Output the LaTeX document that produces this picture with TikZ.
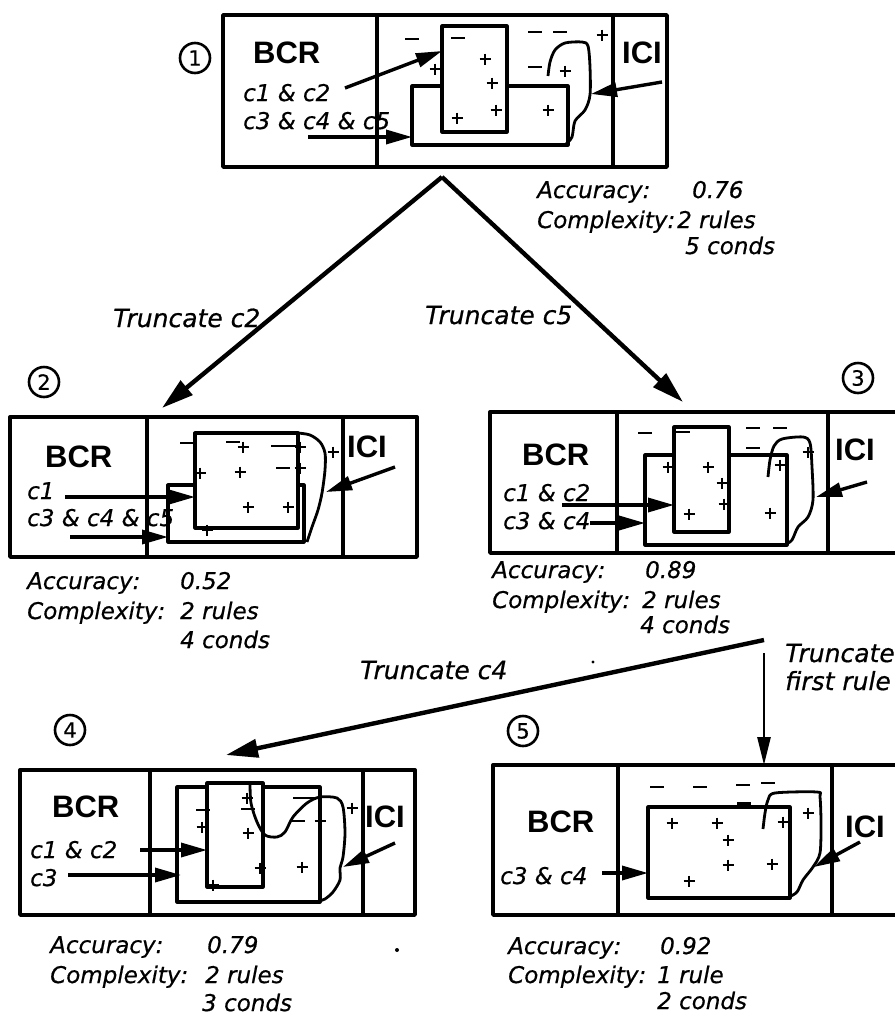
\documentclass[tikz,border=0pt]{standalone}
\usepackage{fontspec}
\usetikzlibrary{arrows.meta}
\newfontfamily\handfont{DejaVu Sans}[FakeBold=0.6]
\newfontfamily\headfont{Liberation Sans}
\newcommand\plusmark[2]{\draw[pm] (#1,#2) +(-5.5,0) -- +(5.5,0) +(0,-5.5) -- +(0,5.5);}
\newcommand\minusmark[2]{\draw[pm] (#1,#2) +(-7,0) -- +(7,0);}
\newcommand\boxnode[6]{\node[#6, minimum width={#4pt-#2pt}, minimum height={#5pt-#3pt}, anchor=north west] (#1) at (#2,#3) {};}
\begin{document}
\begin{tikzpicture}[x=1pt,y=-1pt,line join=round,
  frame/.style={draw, rectangle, line width=3.4pt, inner sep=0pt, outer sep=0pt},
  inner/.style={draw, rectangle, line width=3.2pt, inner sep=0pt, outer sep=0pt},
  tallbox/.style={inner, fill=white},
  divider/.style={line width=3.2pt},
  pm/.style={line width=2.4pt},
  curve/.style={line width=2.8pt},
  parr/.style={line width=3.4pt, -{Triangle[length=26pt,width=14pt]}},
  tarr/.style={line width=4.4pt, -{Triangle[length=32pt,width=18pt]}},
  hand/.style={font=\handfont\itshape\fontsize{23}{23}\selectfont, anchor=base west, inner sep=0pt},
  trunc/.style={font=\handfont\itshape\fontsize{25}{25}\selectfont, anchor=base west, inner sep=0pt},
  head/.style={font=\headfont\bfseries\fontsize{31}{31}\selectfont, anchor=base west, inner sep=0pt},
  num/.style={draw, circle, line width=2.6pt, minimum size=30pt, inner sep=0pt, font=\handfont\fontsize{21}{21}\selectfont}]
\useasboundingbox (0,0) rectangle (895,1021);

% ================= Panel 1 =================
\boxnode{p1}{223}{15}{667}{167}{frame}
\draw[divider] (377,15) -- (377,167) (613,15) -- (613,167);
\boxnode{p1w}{412}{86}{568}{145}{inner}
\boxnode{p1t}{442}{26}{507}{132}{tallbox}
\draw[curve] plot[smooth] coordinates {(548,76) (550,62) (555,50) (565,43) (582,42) (588,46) (590,67) (590,95) (585,110) (575,121) (572,137) (566,144)};
\foreach \a/\b in {412/39,458/38,535/32,560/32,535/67} {\minusmark{\a}{\b}}
\foreach \a/\b in {602/35,435/69,485/59,492/83,496/110,457/118,548/110,565/71} {\plusmark{\a}{\b}}
\node[head] (bcr1) at (253,63) {BCR};
\node[head] (ici1) at (622,63) {ICI};
\node[hand] (r1a) at (243,101) {c1 \& c2};
\node[hand] (r1b) at (243,129) {c3 \& c4 \& c5};
\node[num] (n1) at (195,58) {1};
\coordinate (a1s) at (345,88); \coordinate (a1e) at (442,51);
\coordinate (b1s) at (308,137); \coordinate (b1e) at (412,137);
\coordinate (c1s) at (662,82); \coordinate (c1e) at (591,94);
\draw[parr] (a1s) -- (a1e);
\draw[parr] (b1s) -- (b1e);
\draw[parr] (c1s) -- (c1e);
\node[hand] (acc1) at (537,198) {Accuracy:};
\node[hand] (v1) at (692,198) {0.76};
\node[hand] (cx1) at (537,228) {Complexity:};
\node[hand] (r1) at (677,228) {2 rules};
\node[hand] (k1) at (685,254) {5 conds};

% ================= Tree arrows =================
\coordinate (apex) at (442,177);
\coordinate (to2) at (162,408);
\coordinate (to3) at (683,402);
\draw[tarr] (apex) -- (to2);
\draw[tarr] (apex) -- (to3);
\node[trunc] (tc2) at (113,327) {Truncate c2};
\node[trunc] (tc5) at (425,324) {Truncate c5};

% ================= Panel 2 =================
\boxnode{p2}{10}{417}{417}{557}{frame}
\draw[divider] (147,417) -- (147,557) (343,417) -- (343,557);
\boxnode{p2w}{168}{485}{304}{542}{inner}
\boxnode{p2t}{195}{433}{298}{528}{tallbox}
\draw[curve] plot[smooth] coordinates {(298,433) (310,435) (320,442) (325,453) (325,470) (322,493) (318,510) (312,527) (307,542)};
\foreach \a/\b in {187/443,233/442,278/446,292/446,283/468} {\minusmark{\a}{\b}}
\foreach \a/\b in {243/447,300/447,333/452,200/473,240/472,300/468,248/507,288/507,207/530} {\plusmark{\a}{\b}}
\node[head] (bcr2) at (45,467) {BCR};
\node[head] (ici2) at (347,457) {ICI};
\node[hand] (r2a) at (27,499) {c1};
\node[hand] (r2b) at (27,526) {c3 \& c4 \& c5};
\node[num] (n2) at (44,382) {2};
\coordinate (a2s) at (65,497); \coordinate (a2e) at (195,497);
\coordinate (b2s) at (70,537); \coordinate (b2e) at (168,537);
\coordinate (c2s) at (395,467); \coordinate (c2e) at (326,492);
\draw[parr] (a2s) -- (a2e);
\draw[parr] (b2s) -- (b2e);
\draw[parr] (c2s) -- (c2e);
\node[hand] (acc2) at (27,589) {Accuracy:};
\node[hand] (v2) at (180,589) {0.52};
\node[hand] (cx2) at (27,619) {Complexity:};
\node[hand] (r2) at (180,619) {2 rules};
\node[hand] (k2) at (180,648) {4 conds};

% ================= Panel 3 =================
\boxnode{p3}{490}{412}{905}{553}{frame}
\draw[divider] (617,412) -- (617,553) (828,412) -- (828,553);
\boxnode{p3w}{645}{455}{787}{545}{inner}
\boxnode{p3t}{674}{427}{729}{532}{tallbox}
\draw[curve] plot[smooth] coordinates {(768,477) (770,460) (774,446) (782,439) (803,437) (810,443) (812,467) (813,500) (808,517) (798,527) (792,540) (786,544)};
\foreach \a/\b in {645/433,683/432,753/428,780/428,753/448} {\minusmark{\a}{\b}}
\foreach \a/\b in {668/467,708/467,722/483,724/504,689/514,770/513,780/465,808/452} {\plusmark{\a}{\b}}
\node[head] (bcr3) at (522,465) {BCR};
\node[head] (ici3) at (835,460) {ICI};
\node[hand] (r3a) at (503,501) {c1 \& c2};
\node[hand] (r3b) at (503,529) {c3 \& c4};
\node[num] (n3) at (858,378) {3};
\coordinate (a3s) at (562,505); \coordinate (a3e) at (674,505);
\coordinate (b3s) at (590,523); \coordinate (b3e) at (645,523);
\coordinate (c3s) at (867,482); \coordinate (c3e) at (816,497);
\draw[parr] (a3s) -- (a3e);
\draw[parr] (b3s) -- (b3e);
\draw[parr] (c3s) -- (c3e);
\node[hand] (acc3) at (492,578) {Accuracy:};
\node[hand] (v3) at (645,578) {0.89};
\node[hand] (cx3) at (492,608) {Complexity:};
\node[hand] (r3) at (642,608) {2 rules};
\node[hand] (k3) at (640,633) {4 conds};

% ================= Second-level arrows =================
\coordinate (from3) at (764,640);
\coordinate (to4) at (226,755);
\coordinate (from3b) at (764,653);
\coordinate (to5) at (764,765);
\draw[tarr] (from3) -- (to4);
\draw[line width=2.8pt, -{Triangle[length=28pt,width=13pt]}] (from3b) -- (to5);
\node[trunc] (tfr1) at (785,662) {Truncate};
\node[trunc] (tfr2) at (785,690) {first rule};
\node[trunc] (tc4) at (360,679) {Truncate c4};

% ================= Panel 4 =================
\boxnode{p4}{20}{770}{415}{915}{frame}
\draw[divider] (150,770) -- (150,915) (363,770) -- (363,915);
\boxnode{p4w}{177}{787}{320}{902}{inner}
\boxnode{p4t}{207}{783}{263}{887}{tallbox}
\draw[curve] plot[smooth] coordinates {(250,783) (251,803) (257,822) (265,835) (277,837) (285,832) (293,817) (307,803) (320,797) (337,798) (343,807) (345,833) (343,857) (340,868) (340,880) (333,892) (325,899) (319,901)};
\foreach \a/\b in {203/810,248/809,300/798,312/798,298/821} {\minusmark{\a}{\b}}
\foreach \a/\b in {247/798,320/821,202/827,248/833,260/868,302/867,213/885,352/808} {\plusmark{\a}{\b}}
\node[head] (bcr4) at (52,817) {BCR};
\node[head] (ici4) at (365,827) {ICI};
\node[hand] (r4a) at (30,858) {c1 \& c2};
\node[hand] (r4b) at (30,886) {c3};
\node[num] (n4) at (70,730) {4};
\coordinate (a4s) at (140,850); \coordinate (a4e) at (207,850);
\coordinate (b4s) at (68,875); \coordinate (b4e) at (181,875);
\coordinate (c4s) at (395,843); \coordinate (c4e) at (343,867);
\draw[parr] (a4s) -- (a4e);
\draw[parr] (b4s) -- (b4e);
\draw[parr] (c4s) -- (c4e);
\node[hand] (acc4) at (50,953) {Accuracy:};
\node[hand] (v4) at (207,953) {0.79};
\node[hand] (cx4) at (50,983) {Complexity:};
\node[hand] (r4) at (205,983) {2 rules};
\node[hand] (k4) at (202,1011) {3 conds};
\fill (397,950) circle (2pt);
\fill (593,662) circle (1.6pt);

% ================= Panel 5 =================
\boxnode{p5}{493}{765}{905}{915}{frame}
\draw[divider] (618,765) -- (618,915) (832,765) -- (832,915);
\boxnode{p5r}{648}{807}{790}{898}{inner}
\draw[line width=4.5pt] (737,804) -- (751,804);
\draw[curve] plot[smooth] coordinates {(763,829) (765,813) (768,800) (775,793) (817,792) (820,797) (821,823) (820,853) (813,867) (803,880) (797,892) (789,897)};
\foreach \a/\b in {657/787,700/787,743/785,768/783} {\minusmark{\a}{\b}}
\foreach \a/\b in {672/823,717/823,728/840,728/865,772/864,689/881,783/822,808/813} {\plusmark{\a}{\b}}
\node[head] (bcr5) at (527,832) {BCR};
\node[head] (ici5) at (845,837) {ICI};
\node[hand] (r5a) at (500,884) {c3 \& c4};
\node[num] (n5) at (523,731) {5};
\coordinate (a5s) at (602,873); \coordinate (a5e) at (648,873);
\coordinate (c5s) at (860,842); \coordinate (c5e) at (814,867);
\draw[parr] (a5s) -- (a5e);
\draw[parr] (c5s) -- (c5e);
\node[hand] (acc5) at (508,954) {Accuracy:};
\node[hand] (v5) at (660,954) {0.92};
\node[hand] (cx5) at (508,983) {Complexity:};
\node[hand] (r5) at (657,983) {1 rule};
\node[hand] (k5) at (657,1009) {2 conds};
\end{tikzpicture}
\end{document}
